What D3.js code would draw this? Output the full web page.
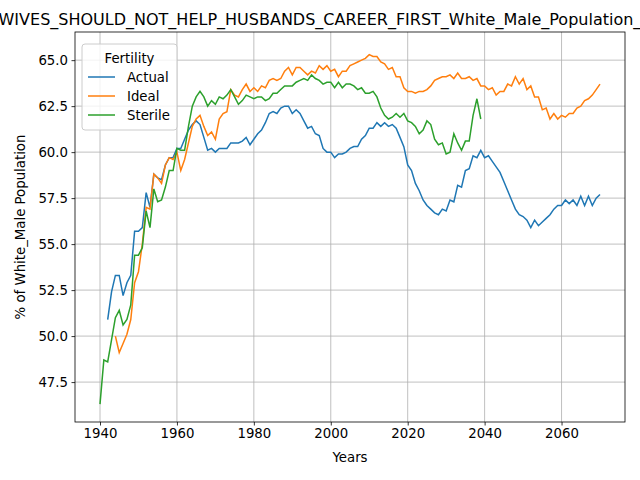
<!DOCTYPE html>
<html><head><meta charset="utf-8">
<script src="https://cdn.jsdelivr.net/npm/d3@7"></script>
<style>body{margin:0;background:#fff}svg{font-family:"DejaVu Sans",sans-serif}</style>
</head><body><svg width="640" height="480"></svg>
<script>
const actualStart = 1942;
const actual = [50.9,52.4,53.3,53.3,52.2,52.9,53.3,55.7,55.7,55.9,57.8,57.0,58.8,58.6,58.5,59.3,59.7,59.7,60.2,60.2,
60.7,61.2,61.5,61.7,61.5,60.8,60.1,60.2,60.0,60.2,60.2,60.2,60.5,60.5,60.5,60.6,60.8,60.4,60.7,61.0,
61.2,61.6,62.1,62.2,62.1,62.4,62.5,62.5,62.1,62.3,62.1,61.7,61.3,61.4,61.0,60.9,60.2,60.0,60.0,59.7,
59.9,59.9,60.0,60.2,60.3,60.3,60.7,60.9,61.3,61.3,61.6,61.4,61.6,61.4,61.5,61.3,60.8,60.3,59.3,59.0,
58.3,57.9,57.4,57.1,56.9,56.7,56.6,56.9,56.8,57.4,57.3,58.2,58.1,59.0,59.1,59.8,59.7,60.1,59.7,59.8,
59.5,59.2,58.9,58.4,57.9,57.4,56.9,56.6,56.5,56.3,55.9,56.3,56.0,56.2,56.4,56.6,56.9,57.1,57.1,57.4,
57.2,57.4,57.1,57.6,57.1,57.6,57.1,57.5,57.7];
const idealStart = 1944;
const ideal = [50.0,49.1,49.6,50.1,50.9,52.9,53.5,55.0,57.0,56.9,58.8,58.6,58.3,59.3,59.7,59.6,60.0,59.0,59.6,60.5,
61.4,61.8,62.0,61.4,60.9,61.1,60.7,61.8,62.1,62.2,63.4,63.1,63.0,63.4,63.7,63.3,63.5,63.3,63.6,63.5,
63.9,64.0,63.9,64.0,64.4,64.6,64.2,64.6,64.6,64.4,64.2,64.4,64.3,64.7,64.5,64.7,64.4,64.5,64.1,64.4,
64.4,64.7,64.8,64.9,65.0,65.1,65.3,65.2,65.2,64.9,64.8,64.5,64.6,64.1,64.1,63.5,63.3,63.3,63.2,63.3,
63.3,63.4,63.6,63.9,64.0,64.1,64.1,64.2,64.0,64.3,64.0,64.0,64.1,63.9,64.0,63.6,63.6,63.4,63.5,63.1,
63.3,63.3,63.7,63.6,64.1,63.7,64.0,63.4,63.6,63.0,63.0,62.3,62.4,61.8,62.1,61.8,62.0,61.9,62.1,62.1,
62.4,62.5,62.8,62.9,63.1,63.4,63.7];
const sterileStart = 1940;
const sterile = [46.3,48.7,48.6,49.8,51.0,51.4,50.6,50.9,51.7,54.4,54.4,54.8,56.8,55.9,58.0,57.3,57.4,58.1,59.0,59.0,
60.2,60.1,60.1,61.4,62.5,63.0,63.3,63.0,62.5,62.8,62.6,63.0,62.9,63.1,63.4,63.0,62.6,62.8,63.1,63.0,
62.9,63.0,63.0,62.8,62.9,63.2,63.2,63.4,63.6,63.6,63.6,63.8,63.9,64.0,63.9,64.2,64.0,63.9,63.7,63.8,
63.8,63.5,63.8,63.5,63.7,63.7,63.6,63.4,63.5,63.2,63.2,63.3,63.0,62.4,62.0,61.8,61.9,62.1,61.9,62.1,
61.7,61.6,61.4,61.0,61.2,61.7,61.5,60.7,60.4,60.5,59.9,60.0,61.0,60.5,60.1,60.6,60.6,62.0,62.9,61.8];
const seriesNames = ["Actual","Ideal","Sterile"];
const colors = ["#1f77b4","#ff7f0e","#2ca02c"];
const xTicks = [1940,1960,1980,2000,2020,2040,2060];
const yTicks = [47.5,50,52.5,55,57.5,60,62.5,65];

const series = [[actualStart,actual],[idealStart,ideal],[sterileStart,sterile]]
  .map(([s,v]) => v.map((y,i) => ({x:s+i,y})));
const svg = d3.select("svg");
const L=75,R=625,T=32,B=422;
const x = d3.scaleLinear().domain([1933.5,2076.5]).range([L,R]);
const y = d3.scaleLinear().domain([45.33,66.53]).range([B,T]);

const g = svg.append("g");
g.selectAll(".gx").data(xTicks).join("line").attr("x1",d=>x(d)).attr("x2",d=>x(d))
  .attr("y1",T).attr("y2",B).attr("stroke","#b0b0b0").attr("stroke-width",0.8);
g.selectAll(".gy").data(yTicks).join("line").attr("y1",d=>y(d)).attr("y2",d=>y(d))
  .attr("x1",L).attr("x2",R).attr("stroke","#b0b0b0").attr("stroke-width",0.8);

const line = d3.line().x(d=>x(d.x)).y(d=>y(d.y));
series.forEach((s,i)=>svg.append("path").datum(s).attr("d",line).attr("fill","none")
  .attr("stroke",colors[i]).attr("stroke-width",1.5));

svg.append("g").attr("transform",`translate(0,${B})`)
  .call(d3.axisBottom(x).tickValues(xTicks).tickFormat(d3.format("d")).tickSize(3.5).tickPadding(3.5))
  .call(a=>a.select(".domain").remove()).attr("font-size",13.3).attr("font-family","DejaVu Sans");
svg.append("g").attr("transform",`translate(${L},0)`)
  .call(d3.axisLeft(y).tickValues(yTicks).tickFormat(d3.format(".1f")).tickSize(3.5).tickPadding(3.5))
  .call(a=>a.select(".domain").remove()).attr("font-size",13.3).attr("font-family","DejaVu Sans");
svg.selectAll(".tick text").attr("fill","#000");
svg.selectAll(".tick line").attr("stroke","#000").attr("stroke-width",0.8);
svg.append("rect").attr("x",L).attr("y",T).attr("width",R-L).attr("height",B-T)
  .attr("fill","none").attr("stroke","#000").attr("stroke-width",0.8);

svg.append("text").attr("x",(L+R)/2).attr("y",462).attr("text-anchor","middle").attr("font-size",13.3).text("Years");
svg.append("text").attr("transform",`translate(25,${(T+B)/2}) rotate(-90)`).attr("text-anchor","middle")
  .attr("font-size",13.3).text("% of White_Male Population");
svg.append("text").attr("x",(L+R)/2).attr("y",25).attr("text-anchor","middle").attr("font-size",16)
  .text("WIVES_SHOULD_NOT_HELP_HUSBANDS_CAREER_FIRST_White_Male_Population_Fertility");

const lg = svg.append("g").attr("transform","translate(82,44)");
lg.append("rect").attr("width",95).attr("height",86).attr("rx",3).attr("fill","#fff")
  .attr("fill-opacity",0.8).attr("stroke","#ccc");
lg.append("text").attr("x",47.5).attr("y",19).attr("text-anchor","middle").attr("font-size",13.3).text("Fertility");
seriesNames.forEach((n,i)=>{
  const yy = 33+i*19;
  lg.append("line").attr("x1",6).attr("x2",33).attr("y1",yy).attr("y2",yy).attr("stroke",colors[i]).attr("stroke-width",1.5);
  lg.append("text").attr("x",45).attr("y",yy+5).attr("font-size",13.3).text(n);
});
</script></body></html>
